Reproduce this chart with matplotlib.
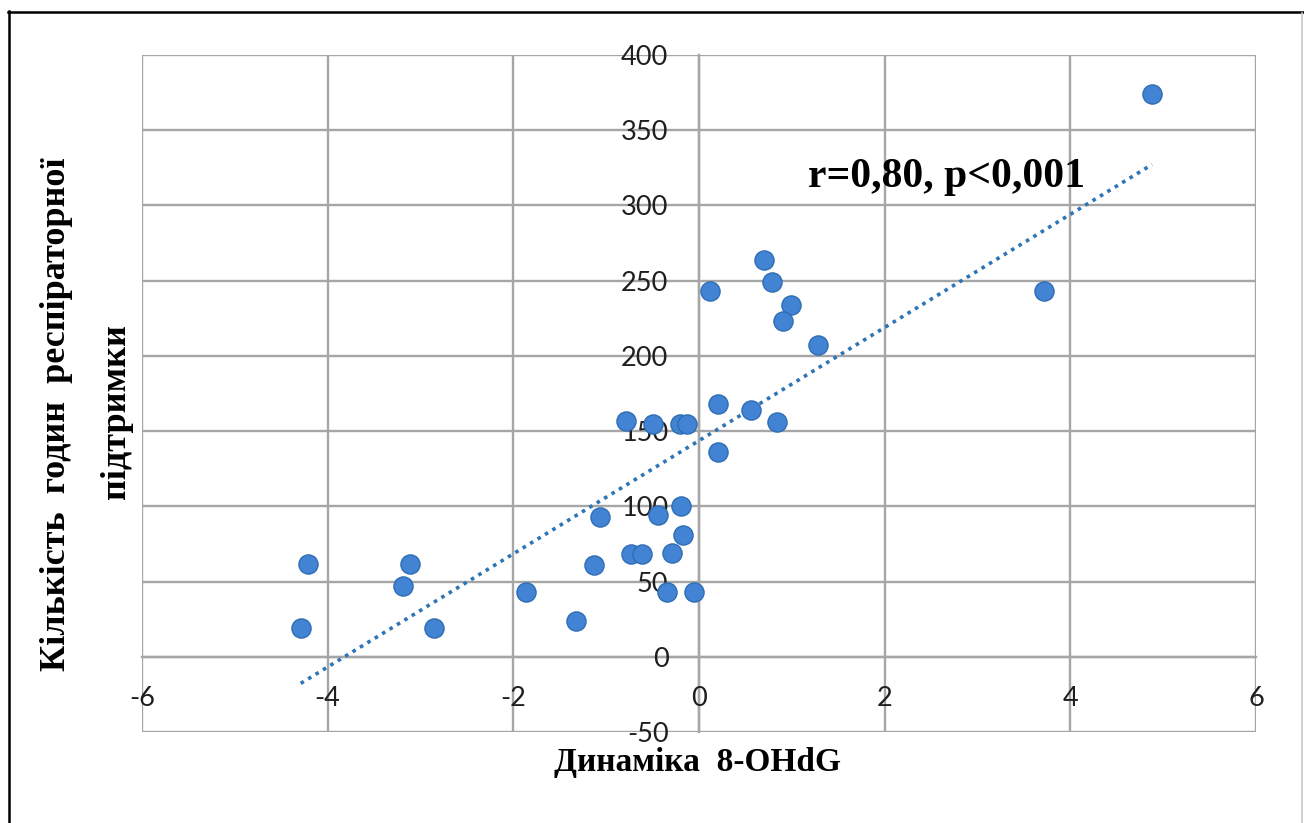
import numpy as np
import matplotlib
matplotlib.use('Agg')
import matplotlib.pyplot as plt
from matplotlib.lines import Line2D

# dynamics of 8-OHdG vs hours of respiratory support
dyn_8ohdg = [4.88, 3.72, 0.12, 0.70, 0.79, 0.99, 0.91, 1.28, 0.20, 0.56, 0.84, 0.21,
             -0.79, -0.50, -0.20, -0.13, -0.19, -0.44, -0.17, -0.29, -0.73, -0.61,
             -1.13, -1.07, -0.35, -0.05, -1.32, -1.86, -4.21, -4.29, -3.11, -3.19, -2.85]
hours = [374, 243, 243, 264, 249, 234, 223, 207, 168, 164, 156, 136,
         157, 155, 155, 155, 100, 94, 81, 69, 68, 68,
         61, 93, 43, 43, 24, 43, 62, 19, 62, 47, 19]

x_ticks = [-6, -4, -2, 0, 2, 4, 6]
y_ticks = [-50, 0, 50, 100, 150, 200, 250, 300, 350, 400]
note = 'r=0,80, p<0,001'
x_title = 'Динаміка  8-OHdG'
y_title1 = 'Кількість  годин  респіраторної'
y_title2 = 'підтримки'

W, H = 1304, 823
fig = plt.figure(figsize=(W / 100, H / 100), dpi=100)
ax = fig.add_axes([142 / W, 1 - 732 / H, (1256 - 142) / W, (732 - 55) / H])

grid_c = '#a6a6a6'
ax.set_xlim(-6, 6)
ax.set_ylim(-50, 400)
ax.set_xticks(x_ticks)
ax.set_yticks(y_ticks)
ax.set_xticklabels([str(v) for v in x_ticks])
ax.set_yticklabels([str(v) for v in y_ticks])
ax.grid(True, color=grid_c, lw=1.7, zorder=0)
for gl in ax.get_xgridlines() + ax.get_ygridlines():
    gl.set_clip_on(False)
ax.set_axisbelow(True)

for s in ['top', 'right']:
    ax.spines[s].set_visible(False)
ax.spines['left'].set_position(('data', 0))
ax.spines['bottom'].set_position(('data', 0))
for s in ['left', 'bottom']:
    ax.spines[s].set_color(grid_c)
    ax.spines[s].set_linewidth(1.7)
    ax.spines[s].set_zorder(0.5)

ax.tick_params(axis='both', length=0, labelsize=19.5, labelcolor='#1f1f1f')
ax.tick_params(axis='y', pad=22)
ax.tick_params(axis='x', pad=21)
for lab in ax.get_xticklabels() + ax.get_yticklabels():
    lab.set_fontfamily('Lato')
    lab.set_zorder(5)

ax.scatter(dyn_8ohdg, hours, s=190, color='#4284d3', edgecolors='#2e6db4',
           linewidths=1, zorder=3)

# linear trendline
k, b = np.polyfit(dyn_8ohdg, hours, 1)
xs = np.array([min(dyn_8ohdg), max(dyn_8ohdg)])
ax.plot(xs, k * xs + b, color='#2e75b6', lw=2.6, linestyle=(0, (1, 1.4)),
        zorder=2)

serif = ['Liberation Serif', 'DejaVu Serif']
fig.text(946 / W, 1 - 187 / H, note, family=serif, weight='bold', fontsize=30,
         ha='center', va='baseline', color='black')
fig.text(697 / W, 1 - 762 / H, x_title, family=serif, weight='bold', fontsize=24,
         ha='center', va='center', color='black')
fig.text(57 / W, 1 - 414 / H, y_title1, family=serif, weight='bold', fontsize=26,
         ha='center', va='center', rotation=90, color='black')
fig.text(117 / W, 1 - 412 / H, y_title2, family=serif, weight='bold', fontsize=26,
         ha='center', va='center', rotation=90, color='black')

# outer frame
fig.add_artist(Line2D([8 / W, 1], [1 - 11.5 / H] * 2, color='black', lw=1.8))
fig.add_artist(Line2D([8.5 / W] * 2, [0, 1 - 11 / H], color='black', lw=1.8))
fig.add_artist(Line2D([1301.5 / W] * 2, [0, 1 - 13 / H], color='#c8c8c8', lw=1.2))

fig.savefig('out.png', dpi=100)
